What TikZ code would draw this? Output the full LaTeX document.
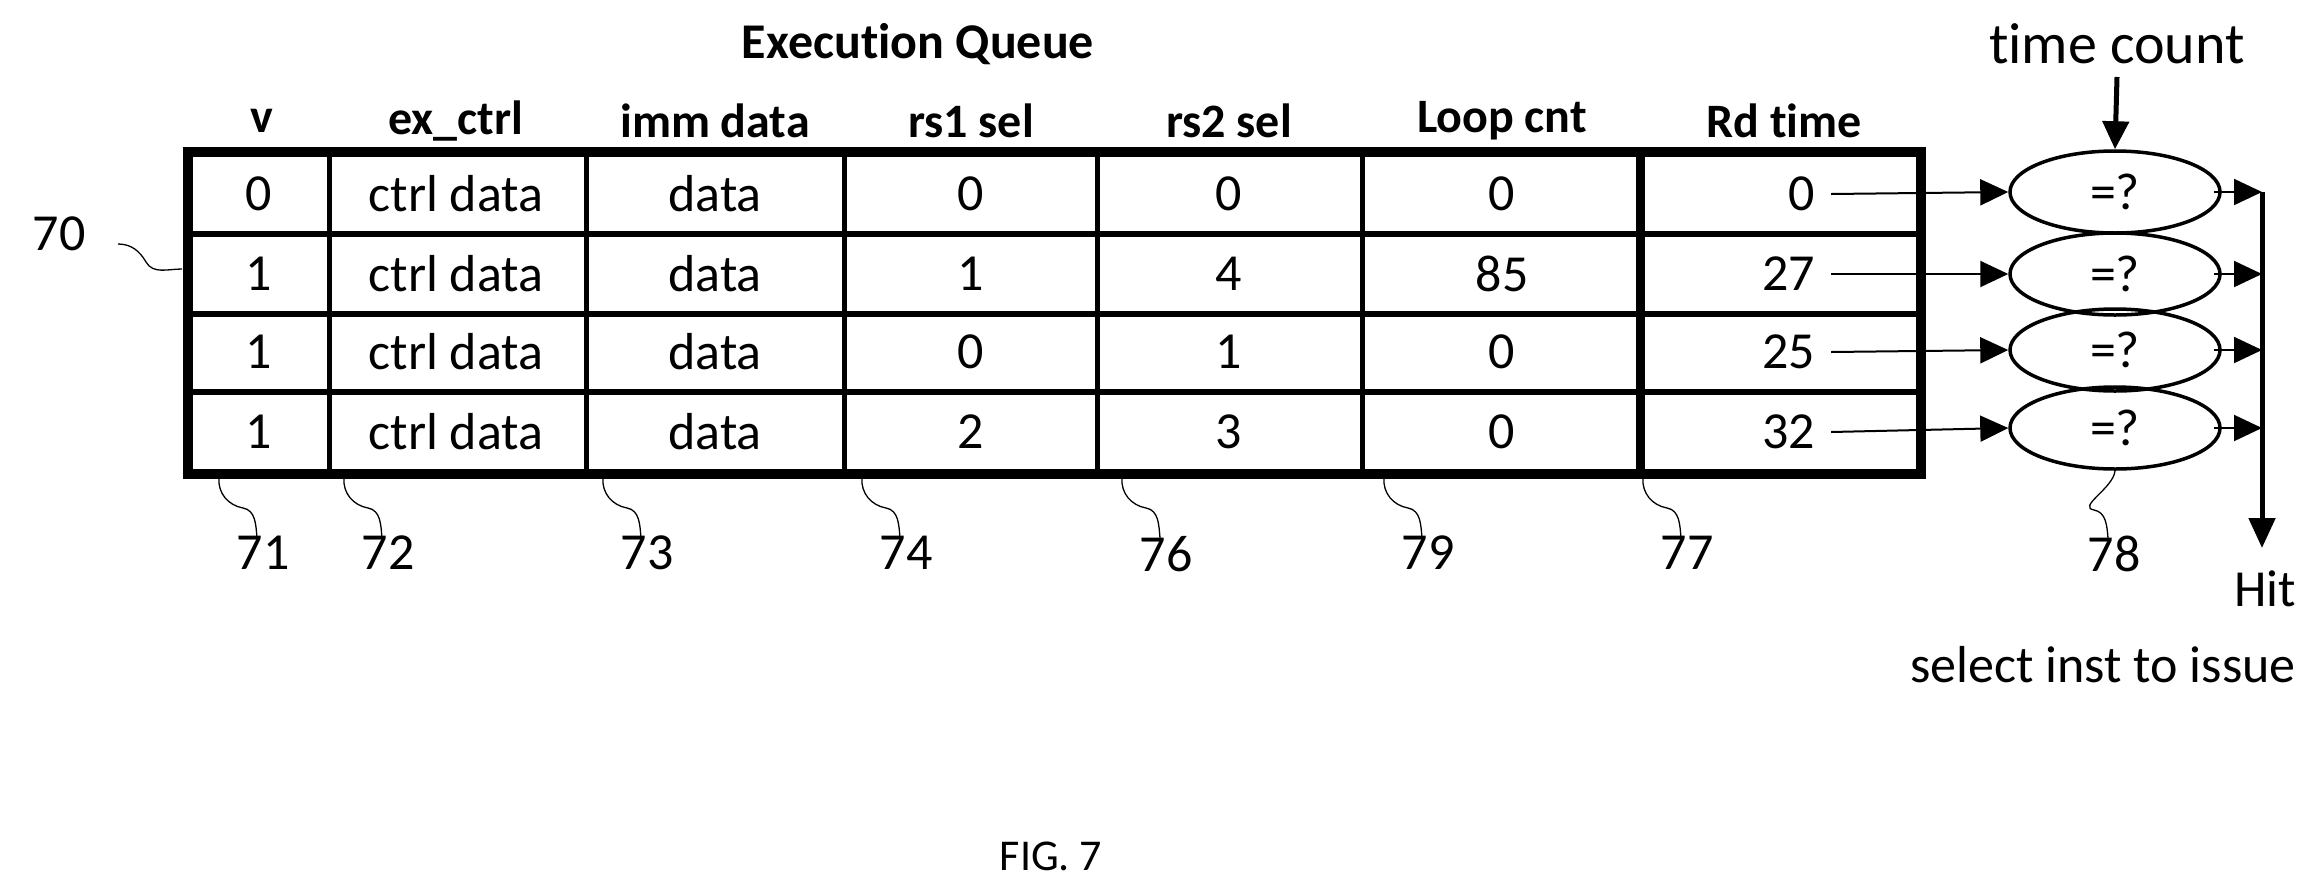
\documentclass[tikz,border=0pt]{standalone}
\usepackage{fontspec}
\setmainfont[Ligatures={NoCommon}]{Carlito}
\usetikzlibrary{arrows.meta,shapes.geometric}
\begin{document}
\begin{tikzpicture}[x=1pt,y=-1pt,
  cell/.style={font=\fontsize{52}{54}\selectfont, inner sep=0pt},
  hdr/.style={font=\fontsize{48}{50}\selectfont\bfseries, inner sep=0pt},
  lbl/.style={font=\fontsize{52}{54}\selectfont, inner sep=0pt, anchor=north},
  cmp/.style={draw, line width=3.5pt, ellipse, minimum width=210pt, minimum height=82pt, inner sep=0pt, font=\fontsize{52}{54}\selectfont},
  lead/.style={line width=1.3pt},
  sig/.style={line width=2pt, -{Triangle[length=28pt,width=26pt]}}]
\useasboundingbox (0,0) rectangle (2321,895);
% grid
\foreach \y in {234,314,392} \draw[line width=6pt] (188,\y) -- (1921,\y);
\foreach \x in {329,586,844,1097,1362} \draw[line width=5pt] (\x,152) -- (\x,474);
\draw[line width=9pt] (1640,152) -- (1640,474);
\draw[line width=10pt] (188,152) rectangle (1921,474);
% titles
\node[hdr, font=\fontsize{50}{52}\selectfont\bfseries] (title) at (918,44) {Execution Queue};
\foreach \n/\x/\t in {hv/262/v, hex/456/ex\_ctrl, him/715/imm data, hr1/971/rs1 sel, hr2/1229/rs2 sel, hlc/1502/Loop cnt, hrd/1784/Rd time}
  \node[hdr] (\n) at (\x,121) {\t};
% cells
\foreach \r/\y/\v/\a/\b/\c/\d in {1/194/0/0/0/0/0, 2/274/1/1/4/85/27, 3/352/1/0/1/0/25, 4/432/1/2/3/0/32}{
  \node[cell] (v\r) at (259,\y) {\v};
  \node[cell] (e\r) at (456,\y) {ctrl data};
  \node[cell] (i\r) at (715,\y) {data};
  \node[cell] (a\r) at (971,\y) {\a};
  \node[cell] (b\r) at (1229,\y) {\b};
  \node[cell] (l\r) at (1502,\y) {\c};
  \node[cell, anchor=east] (t\r) at (1815,\y) {\d};
}
% comparators
\foreach \r/\y in {1/192,2/274,3/350,4/428}{
  \node[cmp] (c\r) at (2115,\y) {=?};
  \coordinate (h\r) at (2262,\y);
  \draw[sig] (t\r.east) ++(16,0) -- (c\r.west);
  \draw[sig] (c\r.east) ++(-8,0) coordinate (s\r) -- (h\r);
}
\coordinate (hend) at (2262,548);
\draw[line width=5pt, -{Triangle[length=30pt,width=26pt]}] (h1) -- (hend);
\node[font=\fontsize{58}{60}\selectfont, inner sep=0pt] (tc) at (2117,44) {time count};
\draw[line width=5pt, -{Triangle[length=28pt,width=26pt]}] (2117,77) -- (c1.north);
\node[cell, anchor=east] (hit) at (2296,589) {Hit};
\node[cell, anchor=east] (sel) at (2296,665) {select inst to issue};
\node[font=\fontsize{44}{46}\selectfont, inner sep=0pt] (fig) at (1051,856) {FIG. 7};
% reference labels
\foreach \n/\x in {71/263,72/388,73/647,74/906,76/1166,79/1428,77/1687}{
  \node[lbl] (n\n) at (\x,536) {\n};
  \draw[lead] (\x-44,478) to[out=-95,in=170] (\x-20,508) to[out=-10,in=95] (\x-6,538);
}
\node[lbl] (n78) at (2114,536) {78};
\draw[lead] (c4.south) to[out=-95,in=170] (2094,510) to[out=-10,in=95] (2108,538);
\node[cell] (n70) at (59,234) {70};
\draw[lead] (118,244) to[out=0,in=120] (146,262) to[out=-60,in=180] (182,269);
\end{tikzpicture}
\end{document}
